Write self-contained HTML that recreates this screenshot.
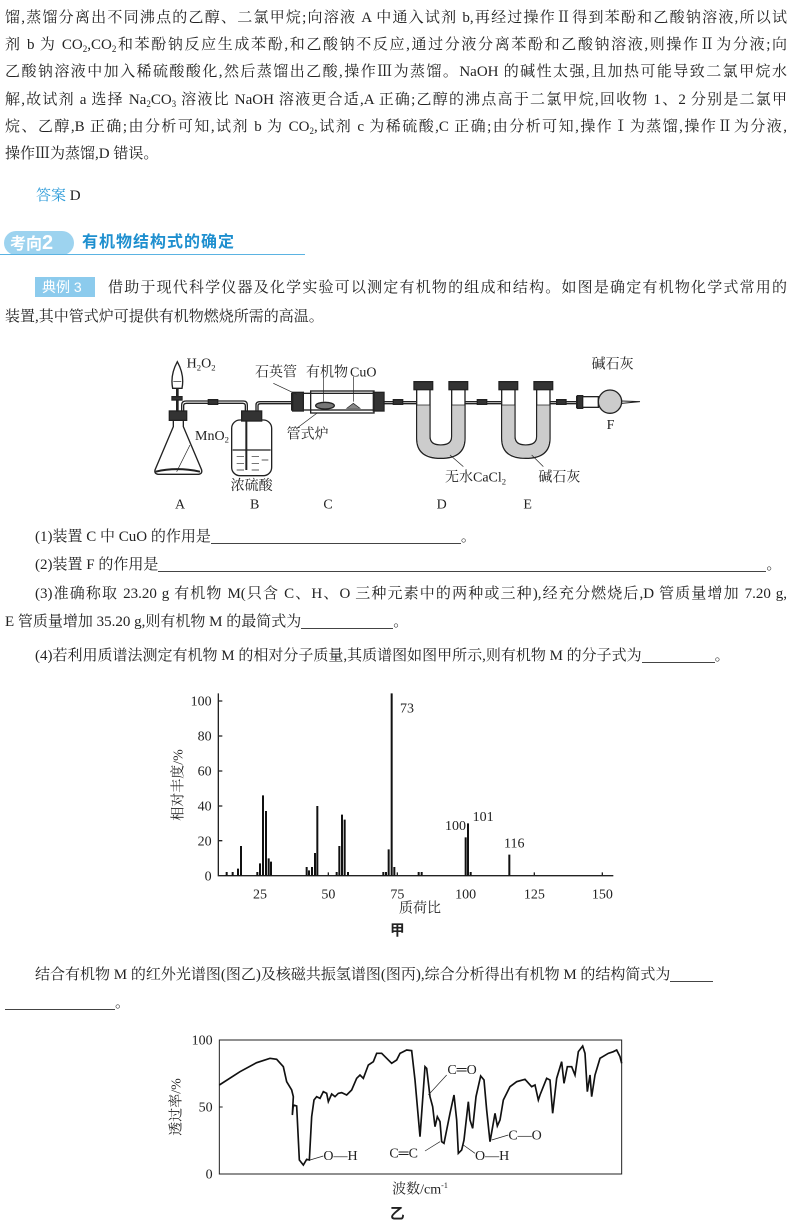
<!DOCTYPE html>
<html><head><meta charset="utf-8">
<style>
body{margin:0;width:790px;height:1229px;background:#fff;position:relative;overflow:hidden;font-family:"Liberation Serif","Noto Serif CJK SC",serif;color:#222;}
.l{position:absolute;left:5px;width:782px;font-size:15px;line-height:20px;white-space:nowrap;text-align:justify;text-align-last:justify;}
.n{position:absolute;font-size:15px;line-height:20px;white-space:nowrap;}
sub{font-size:9px;vertical-align:-3px;line-height:0}
.u{display:inline-block;border-bottom:1px solid #444;height:16px;vertical-align:-3px}
svg{position:absolute}
</style></head><body>
<div class="l" style="top:8px">馏,蒸馏分离出不同沸点的乙醇、二氯甲烷;向溶液 A 中通入试剂 b,再经过操作Ⅱ得到苯酚和乙酸钠溶液,所以试</div>
<div class="l" style="top:35px">剂 b 为 CO<sub>2</sub>,CO<sub>2</sub>和苯酚钠反应生成苯酚,和乙酸钠不反应,通过分液分离苯酚和乙酸钠溶液,则操作Ⅱ为分液;向</div>
<div class="l" style="top:62px">乙酸钠溶液中加入稀硫酸酸化,然后蒸馏出乙酸,操作Ⅲ为蒸馏。NaOH 的碱性太强,且加热可能导致二氯甲烷水</div>
<div class="l" style="top:90px">解,故试剂 a 选择 Na<sub>2</sub>CO<sub>3</sub> 溶液比 NaOH 溶液更合适,A 正确;乙醇的沸点高于二氯甲烷,回收物 1、2 分别是二氯甲</div>
<div class="l" style="top:117px">烷、乙醇,B 正确;由分析可知,试剂 b 为 CO<sub>2</sub>,试剂 c 为稀硫酸,C 正确;由分析可知,操作Ⅰ为蒸馏,操作Ⅱ为分液,</div>
<div class="n" style="left:5px;top:144px">操作Ⅲ为蒸馏,D 错误。</div>
<div class="n" style="left:36px;top:186px"><span style="color:#2a9ad8">答案</span> D</div>

<div style="position:absolute;left:4px;top:231px;width:70px;height:24px;border-radius:12px;background:#9dd3ef;"></div>
<div class="n" style="left:10px;top:233px;font-family:'Liberation Sans','Noto Sans CJK SC',sans-serif;font-weight:bold;color:#fff;font-size:16px">考向<span style="font-size:20px">2</span></div>
<div class="n" style="left:82px;top:233px;font-family:'Liberation Sans','Noto Sans CJK SC',sans-serif;font-weight:bold;color:#1e8fcf;font-size:16px;letter-spacing:1px">有机物结构式的确定</div>
<div style="position:absolute;left:0;top:254px;width:305px;height:1px;background:#5bb3e2"></div>

<div style="position:absolute;left:35px;top:277px;width:60px;height:20px;background:#8ccbed"></div>
<div class="n" style="left:42px;top:277px;font-family:'Liberation Sans','Noto Sans CJK SC',sans-serif;color:#fff;font-size:14px">典例 3</div>
<div class="n" style="left:108px;top:278px;width:679px;text-align:justify;text-align-last:justify">借助于现代科学仪器及化学实验可以测定有机物的组成和结构。如图是确定有机物化学式常用的</div>
<div class="n" style="left:5px;top:307px">装置,其中管式炉可提供有机物燃烧所需的高温。</div>

<svg style="left:140px;top:355px" width="520" height="160" viewBox="0 0 1560 480" font-family="Liberation Serif,Noto Serif CJK SC,serif" font-size="42" fill="none" stroke="#222" stroke-width="4">
<path d="M100 195 L100 215 L45 345 Q42 358 58 358 L172 358 Q188 358 185 345 L130 215 L130 195"/>
<rect x="88" y="168" width="52" height="28" fill="#333"/>
<path d="M110 100 L110 170 M114 100 L114 170"/>
<path d="M112 20 Q90 60 98 100 L126 100 Q134 60 112 20Z"/>
<path d="M100 80 L124 80" stroke-width="2"/>
<rect x="96" y="125" width="30" height="10" fill="#333"/>
<path d="M47 350 Q110 335 180 350" stroke-width="6"/>
<path d="M125 168 L125 150 Q125 138 138 138 L310 138 Q322 138 322 150 L322 200 M131 168 L131 152 Q131 145 140 145 L308 145 Q316 145 316 152 L316 200"/>
<rect x="205" y="134" width="28" height="14" fill="#333"/>
<rect x="275" y="195" width="120" height="167" rx="25" fill="#fff"/>
<path d="M278 285 L392 285"/>
<path d="M290 305h22M335 305h22M290 325h22M335 325h22M365 315h20M290 345h22M335 345h22" stroke-width="2"/>
<path d="M319 195 L319 345" stroke-width="6"/>
<rect x="305" y="168" width="60" height="30" fill="#333"/>
<path d="M348 168 L348 150 Q348 140 360 140 L460 140 M354 168 L354 152 Q354 146 362 146 L460 146"/>
<rect x="455" y="115" width="275" height="50" fill="#fff"/>
<rect x="458" y="112" width="32" height="56" fill="#333"/>
<rect x="700" y="112" width="32" height="56" fill="#333"/>
<rect x="512" y="108" width="190" height="66" fill="none"/>
<ellipse cx="555" cy="152" rx="28" ry="10" fill="#777"/>
<path d="M620 160 L640 145 L660 160Z" fill="#888" stroke-width="2"/>
<path d="M400 85 L470 118 M550 65 L550 140 M640 65 L640 140 M470 220 L530 175" stroke-width="2"/>
<path d="M732 140 L832 140 M732 146 L832 146"/>
<rect x="760" y="134" width="28" height="14" fill="#333"/>
<g id="u">
<path d="M830 100 L830 250 Q830 310 902 310 Q975 310 975 250 L975 100 M870 100 L870 245 Q870 270 902 270 Q935 270 935 245 L935 100" fill="#fff"/>
<path d="M832 150 L832 250 Q832 307 902 307 Q973 307 973 250 L973 150 L937 150 L937 245 Q937 273 902 273 Q868 273 868 245 L868 150Z" fill="#ccc" stroke="none"/>
<path d="M830 150 L870 150 M935 150 L975 150" stroke-width="2"/>
<rect x="822" y="80" width="56" height="24" fill="#333"/>
<rect x="927" y="80" width="56" height="24" fill="#333"/>
</g>
<use href="#u" x="255"/>
<path d="M975 140 L1085 140 M975 146 L1085 146"/>
<rect x="1012" y="134" width="28" height="14" fill="#333"/>
<path d="M1230 140 L1320 140 M1230 146 L1320 146"/>
<rect x="1250" y="134" width="28" height="14" fill="#333"/>
<rect x="1310" y="125" width="65" height="32" fill="#fff"/>
<rect x="1312" y="122" width="16" height="38" fill="#333"/>
<circle cx="1410" cy="140" r="35" fill="#ccc"/>
<path d="M1445 138 L1500 140 L1445 145" stroke-width="3"/>
<path d="M970 335 L930 300 M1210 335 L1175 300 M150 270 L110 350" stroke-width="2"/>
<g fill="#222" stroke="none">
<text x="140" y="38">H<tspan font-size="26" dy="8">2</tspan><tspan dy="-8">O</tspan><tspan font-size="26" dy="8">2</tspan></text>
<text x="165" y="255">MnO<tspan font-size="26" dy="8">2</tspan></text>
<text x="345" y="65">石英管</text>
<text x="498" y="65">有机物</text>
<text x="630" y="65">CuO</text>
<text x="440" y="250">管式炉</text>
<text x="272" y="405">浓硫酸</text>
<text x="915" y="380">无水CaCl<tspan font-size="26" dy="8">2</tspan></text>
<text x="1195" y="380">碱石灰</text>
<text x="1355" y="40">碱石灰</text>
<text x="1400" y="222">F</text>
<text x="105" y="460">A</text>
<text x="330" y="460">B</text>
<text x="550" y="460">C</text>
<text x="890" y="460">D</text>
<text x="1150" y="460">E</text>
</g>
</svg>

<div class="n" style="left:35px;top:527px">(1)装置 C 中 CuO 的作用是<span class="u" style="width:250px"></span>。</div>
<div class="n" style="left:35px;top:555px">(2)装置 F 的作用是<span class="u" style="width:608px"></span>。</div>
<div class="n" style="left:35px;top:584px;width:752px;text-align:justify;text-align-last:justify">(3)准确称取 23.20 g 有机物 M(只含 C、H、O 三种元素中的两种或三种),经充分燃烧后,D 管质量增加 7.20 g,</div>
<div class="n" style="left:5px;top:612px">E 管质量增加 35.20 g,则有机物 M 的最简式为<span class="u" style="width:92px"></span>。</div>
<div class="n" style="left:35px;top:646px">(4)若利用质谱法测定有机物 M 的相对分子质量,其质谱图如图甲所示,则有机物 M 的分子式为<span class="u" style="width:73px"></span>。</div>

<svg style="left:160px;top:685px" width="460" height="255" viewBox="0 0 1380 765" font-family="Liberation Serif,Noto Serif CJK SC,serif" font-size="42">
<g stroke="#222" stroke-width="4" fill="none">
<path d="M175 25 L175 572 L1360 572"/>
<path d="M175 48h12M175 153h12M175 258h12M175 363h12M175 467h12M300 572v-10M505 572v-10M712 572v-10M917 572v-10M1123 572v-10M1327 572v-10"/>
</g>
<g stroke="#111" stroke-width="6">
<path d="M200 572V561M218 572V561M234 572V551M243 572V483M292 572V561M300 572V535M309 572V331M318 572V378M326 572V520M333 572V530M440 572V546M447 572V556M456 572V546M465 572V504M472 572V363M530 572V561M538 572V483M546 572V389M554 572V404M564 572V561M670 572V561M678 572V561M686 572V493M695 572V25M703 572V546M776 572V561M785 572V561M917 572V457M924 572V415M932 572V561M1048 572V509"/>
</g>
<g fill="#222" text-anchor="end">
<text x="155" y="62">100</text><text x="155" y="167">80</text><text x="155" y="272">60</text><text x="155" y="377">40</text><text x="155" y="481">20</text><text x="155" y="586">0</text>
</g>
<g fill="#222" text-anchor="middle">
<text x="300" y="640">25</text><text x="505" y="640">50</text><text x="712" y="640">75</text><text x="917" y="640">100</text><text x="1123" y="640">125</text><text x="1327" y="640">150</text>
<text x="780" y="682">质荷比</text>
<text x="712" y="750" font-family="Liberation Sans,Noto Sans CJK SC,sans-serif" font-weight="bold" font-size="44">甲</text>
</g>
<g fill="#222">
<text x="720" y="82">73</text><text x="855" y="435">100</text><text x="938" y="408">101</text><text x="1032" y="488">116</text>
<text transform="translate(68 300) rotate(-90)" text-anchor="middle">相对丰度/%</text>
</g>
</svg>

<div class="n" style="left:35px;top:965px">结合有机物 M 的红外光谱图(图乙)及核磁共振氢谱图(图丙),综合分析得出有机物 M 的结构简式为<span class="u" style="width:43px"></span></div>
<div class="n" style="left:5px;top:993px"><span class="u" style="width:110px"></span>。</div>

<svg style="left:160px;top:1020px" width="470" height="209" viewBox="0 0 1410 627" font-family="Liberation Serif,Noto Serif CJK SC,serif" font-size="42">
<path d="M178 60 L1385 60 L1385 462 L178 462 Z M178 261 h10" fill="none" stroke="#222" stroke-width="3"/>
<polyline fill="none" stroke="#111" stroke-width="5" points="178,195 240,155 290,128 330,115 350,118 370,140 380,185 395,210 400,230 397,285 400,255 410,258 418,420 430,435 440,418 448,420 455,290 462,240 470,230 480,235 490,215 500,220 505,245 515,222 525,230 535,220 545,218 560,225 575,210 590,175 600,165 610,175 625,135 640,125 650,100 665,100 680,115 695,130 710,120 720,100 740,90 755,92 765,180 780,350 795,140 800,145 810,230 818,260 825,320 832,290 840,305 845,365 852,370 860,330 870,280 882,225 890,300 895,400 905,390 912,360 925,245 930,300 938,325 948,230 962,168 972,180 980,270 990,365 998,320 1005,280 1012,318 1020,300 1030,240 1050,200 1070,185 1095,178 1115,200 1125,195 1135,240 1140,225 1160,175 1170,180 1178,280 1190,175 1205,125 1212,190 1222,140 1235,140 1245,165 1255,95 1268,78 1275,100 1282,215 1290,165 1295,230 1305,165 1320,115 1345,100 1360,95 1370,90 1380,110 1385,130"/>
<path d="M860 165 L805 225 M795 393 L840 365 M490 408 L450 420 M945 400 L910 375 M1045 345 L995 360" stroke="#222" stroke-width="2"/>
<g fill="#222">
<text x="862" y="162">C═O</text>
<text x="688" y="412">C═C</text>
<text x="490" y="420">O—H</text>
<text x="945" y="420">O—H</text>
<text x="1045" y="358">C—O</text>
</g>
<g fill="#222" text-anchor="end">
<text x="158" y="74">100</text><text x="158" y="275">50</text><text x="158" y="476">0</text>
</g>
<text transform="translate(62 261) rotate(-90)" text-anchor="middle" fill="#222">透过率/%</text>
<text x="780" y="520" text-anchor="middle" fill="#222">波数/cm<tspan font-size="24" dy="-16">-1</tspan></text>
<text x="712" y="595" text-anchor="middle" fill="#222" font-family="Liberation Sans,Noto Sans CJK SC,sans-serif" font-weight="bold" font-size="44">乙</text>
</svg>
</body></html>
